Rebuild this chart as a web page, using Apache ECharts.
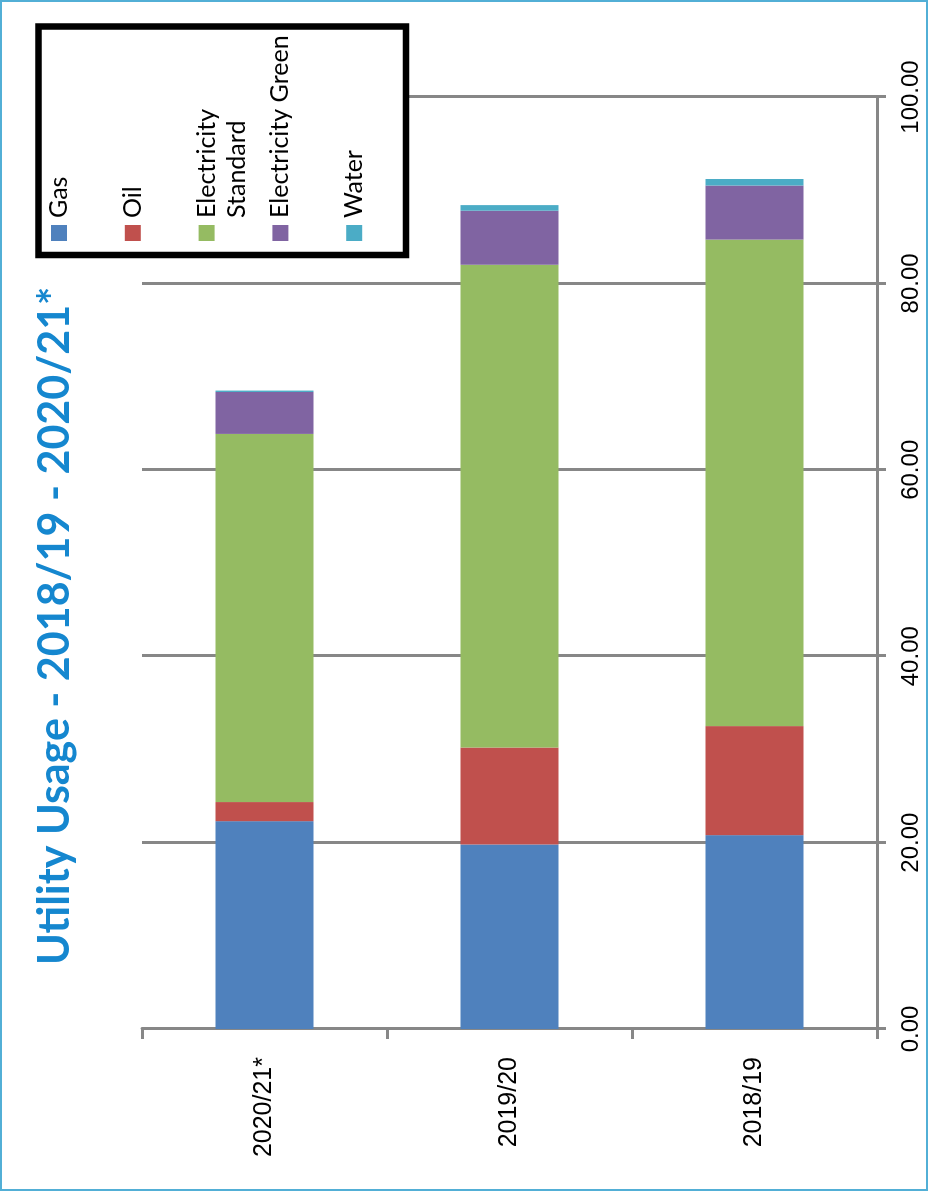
<!DOCTYPE html>
<html>
<head>
<meta charset="utf-8">
<script src="https://cdn.jsdelivr.net/npm/echarts@6/dist/echarts.min.js"></script>
<style>
  html, body { margin: 0; padding: 0; background: #fff; overflow: hidden; }
  /* The chart is laid out landscape and turned a quarter turn counter-clockwise */
  #chart {
    position: absolute; left: 0; top: 0;
    width: 1191px; height: 928px;
    transform-origin: 0 0;
    transform: translate(0px, 1191px) rotate(-90deg);
  }
</style>
</head>
<body>
<div id="chart"></div>
<script>
// Financial years shown, top to bottom in the landscape layout
const categories = ['2020/21*', '2019/20', '2018/19'];

// Utility series
const seriesNames = ['Gas', 'Oil', 'Electricity Standard', 'Electricity Green', 'Water'];
const legendLabels = ['Gas', 'Oil', 'Electricity\nStandard', 'Electricity Green', 'Water'];

const gas       = [22.3, 19.8, 20.8];
const oil       = [2.05, 10.4, 11.7];
const elecStd   = [39.5, 51.8, 52.2];
const elecGreen = [4.5, 5.8, 5.8];
const water     = [0.15, 0.6, 0.7];

const seriesValues = [gas, oil, elecStd, elecGreen, water];
const colors = ['#4F81BD', '#C0504D', '#95BB62', '#8064A2', '#4BACC6'];

const titleText = 'Utility Usage - 2018/19 - 2020/21*';

const chart = echarts.init(document.getElementById('chart'), null, { renderer: 'canvas' });

const axisGrey = '#878787';

// Legend box drawn as a framed panel in the upper-right corner
const legendGraphic = [];
legendGraphic.push({
  type: 'rect', z: 100,
  shape: { x: 936, y: 38.5, width: 228.5, height: 367.5 },
  style: { fill: '#fff', stroke: '#000', lineWidth: 6.5 }
});
const itemStart = 51, itemStep = 73.8;
legendLabels.forEach((label, i) => {
  const top = itemStart + i * itemStep;
  legendGraphic.push({
    type: 'rect', z: 101,
    shape: { x: 950, y: top, width: 16, height: 16 },
    style: { fill: colors[i] }
  });
  legendGraphic.push({
    type: 'text', z: 101,
    x: 973, y: top + 8 - 15,
    style: {
      text: label, fill: '#000',
      font: '25px Lato',
      align: 'left', verticalAlign: 'top', lineHeight: 30
    }
  });
});

chart.setOption({
  animation: false,
  backgroundColor: '#fff',
  title: {
    text: titleText,
    left: 226, top: 32, padding: 0,
    textStyle: { fontFamily: 'Lato', fontWeight: 'bold', fontSize: 43, color: '#1587cf', lineHeight: 46 }
  },
  grid: { left: 162, right: 97, top: 142, bottom: 51, containLabel: false },
  xAxis: {
    type: 'value', min: 0, max: 100, interval: 20,
    position: 'bottom',
    axisLine: { show: true, lineStyle: { color: axisGrey, width: 3 } },
    axisTick: { show: true, length: 9, inside: false, lineStyle: { color: axisGrey, width: 3 } },
    splitLine: { show: true, lineStyle: { color: axisGrey, width: 3 } },
    axisLabel: {
      margin: 22, color: '#000', fontFamily: 'Liberation Sans', fontSize: 24,
      formatter: v => v.toFixed(2)
    }
  },
  yAxis: {
    type: 'category', data: categories, inverse: true,
    axisLine: { show: true, lineStyle: { color: axisGrey, width: 3 } },
    axisTick: { show: true, length: 10, alignWithLabel: false, lineStyle: { color: axisGrey, width: 3 } },
    axisLabel: { margin: 28, color: '#000', fontFamily: 'Liberation Sans', fontSize: 25 }
  },
  series: seriesNames.map((name, i) => ({
    name, type: 'bar', stack: 'usage', barWidth: '40%',
    data: seriesValues[i],
    itemStyle: { color: colors[i] },
    z: 3
  })),
  graphic: [
    {
      type: 'rect', z: 0, silent: true,
      shape: { x: 1, y: 1, width: 1189, height: 926 },
      style: { fill: 'none', stroke: '#52afd6', lineWidth: 2 }
    }
  ].concat(legendGraphic)
});
</script>
</body>
</html>
